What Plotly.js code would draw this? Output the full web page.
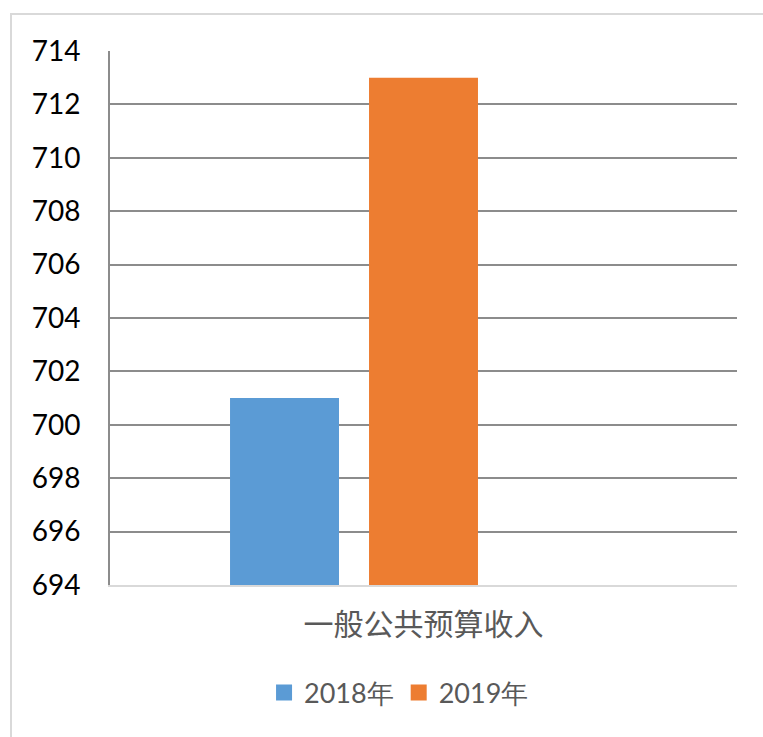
<!DOCTYPE html>
<html>
<head>
<meta charset="utf-8">
<script src="https://cdn.plot.ly/plotly-3.0.1.min.js"></script>
<style>
html,body{margin:0;padding:0;width:763px;height:737px;overflow:hidden;background:#fff;}
#frame{position:absolute;left:10px;top:13px;width:800px;height:800px;border:2px solid #d9d9d9;box-sizing:border-box;}
#chart{position:absolute;left:0;top:0;width:763px;height:737px;}
</style>
</head>
<body>
<div id="frame"></div>
<div id="chart"></div>
<script>
const categories = ["一般公共预算收入"];
const seriesNames = ["2018年", "2019年"];
const values2018 = [701];
const values2019 = [713];
const colors = ["#5b9bd5", "#ed7d31"];
const yTicks = [694, 696, 698, 700, 702, 704, 706, 708, 710, 712, 714];

const traces = [
  {type: "bar", x: categories, y: values2018, name: seriesNames[0], marker: {color: colors[0]}, showlegend: false, hoverinfo: "none"},
  {type: "bar", x: categories, y: values2019, name: seriesNames[1], marker: {color: colors[1]}, showlegend: false, hoverinfo: "none"},
  {type: "bar", x: categories, y: [null], name: "", showlegend: false, hoverinfo: "none"},
  {type: "scatter", mode: "markers", x: [null], y: [null], name: seriesNames[0], marker: {symbol: "square", size: 16, color: colors[0]}, showlegend: true},
  {type: "scatter", mode: "markers", x: [null], y: [null], name: seriesNames[1], marker: {symbol: "square", size: 16, color: colors[1]}, showlegend: true}
];

const layout = {
  width: 763, height: 737,
  margin: {l: 110, r: 26, t: 51, b: 152},
  paper_bgcolor: "rgba(0,0,0,0)",
  plot_bgcolor: "rgba(0,0,0,0)",
  barmode: "group",
  bargap: 0.335,
  bargroupgap: 0.216,
  showlegend: true,
  xaxis: {
    type: "category",
    range: [-0.5, 0.5],
    showgrid: false,
    showline: true, linecolor: "#d9d9d9", linewidth: 2,
    ticks: "",
    tickfont: {family: "Noto Sans CJK SC", size: 30, color: "#595959"},
    ticklabelstandoff: 12,
    fixedrange: true
  },
  yaxis: {
    range: [694, 714],
    tickvals: yTicks,
    ticktext: yTicks.map(String),
    showgrid: true, gridcolor: "#8c8c8c", gridwidth: 2,
    zeroline: false,
    showline: true, linecolor: "#8c8c8c", linewidth: 2,
    ticks: "",
    ticklabelstandoff: 22,
    tickfont: {family: "Lato", size: 28, color: "#000000"},
    fixedrange: true
  },
  legend: {
    orientation: "h",
    x: 0.461, xanchor: "center",
    y: -0.202, yanchor: "middle",
    font: {family: "Lato", size: 27, color: "#595959"},
    itemwidth: 30,
    bgcolor: "rgba(0,0,0,0)"
  }
};

Plotly.newPlot("chart", traces, layout, {displayModeBar: false, staticPlot: true});
</script>
</body>
</html>
